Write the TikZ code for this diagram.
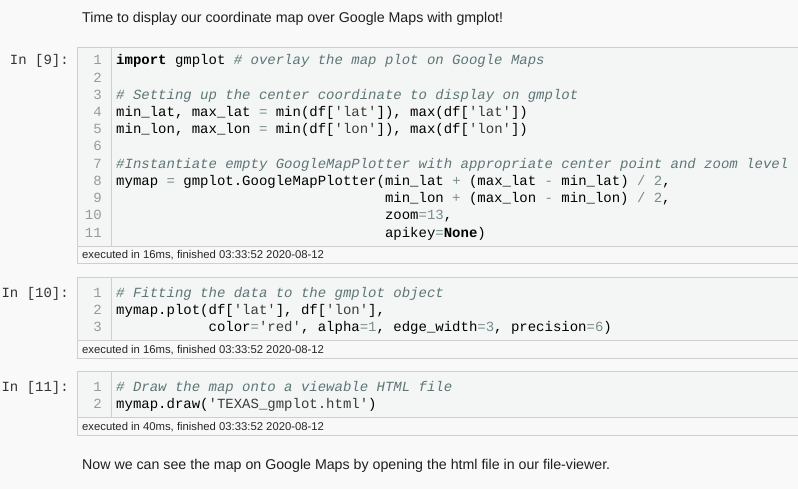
\documentclass[tikz,border=0pt]{standalone}
\usepackage{fontspec}
\setmainfont{Liberation Sans}
\setmonofont{Liberation Mono}
\definecolor{pagebg}{HTML}{F9F9F9}
\definecolor{codebg}{HTML}{F4F6F6}
\definecolor{footbg}{HTML}{F8F8F8}
\definecolor{boxline}{HTML}{CFCFCF}
\definecolor{numgray}{HTML}{999999}
\definecolor{cmgray}{HTML}{5E7575}
\definecolor{opgray}{HTML}{7A8C8C}
\definecolor{strgray}{HTML}{3A3A3A}
\newcommand{\cm}[1]{{\color{cmgray}\itshape #1}}
\newcommand{\op}[1]{{\color{opgray}#1}}
\newcommand{\nm}[1]{{\color{opgray}#1}}
\newcommand{\str}[1]{{\color{strgray}#1}}
\newcommand{\kw}[1]{\textbf{#1}}

\begin{document}
\begin{tikzpicture}[x=1pt,y=-1pt,
codeline/.style={anchor=base west,inner sep=0pt,font=\ttfamily\fontsize{14}{17}\selectfont},
lineno/.style={anchor=base east,inner sep=0pt,text=numgray,font=\ttfamily\fontsize{14}{17}\selectfont},
prompt/.style={anchor=base east,inner sep=0pt,text=black!80,font=\ttfamily\fontsize{14}{17}\selectfont},
footer/.style={anchor=base west,inner sep=0pt,text=black!85,font=\fontsize{11.3}{13}\selectfont},
prose/.style={anchor=base west,inner sep=0pt,text=black!88,font=\fontsize{14.2}{17}\selectfont}]
\fill[pagebg] (0,0) rectangle (798,489);
\useasboundingbox (0,0) rectangle (798,489);

\node[prose] (intro) at (82,23) {Time to display our coordinate map over Google Maps with gmplot!};

\foreach \t/\c/\f in {47.5/246/263.5, 277.5/340/358, 371.5/417/435}{
\draw[boxline,fill=footbg] (77.5,\t) rectangle (805,\f);
\draw[boxline,fill=codebg] (77.5,\t) rectangle (805,\c);
\draw[boxline] (111,\t) -- (111,\c);
}

% In [9]
\node[prompt] (in9) at (69,65) {In [9]:};
\foreach \n in {1,...,11}
\node[lineno] (n9-\n) at (102,{65+17.2*(\n-1)}) {\n};
\node[codeline] (c9-1) at (116,65) {\kw{import} gmplot \cm{\# overlay the map plot on Google Maps}};
\node[codeline] (c9-3) at (116,99.4) {\cm{\# Setting up the center coordinate to display on gmplot}};
\node[codeline] (c9-4) at (116,116.6) {min\_lat, max\_lat \op{=} min(df[\str{'lat'}]), max(df[\str{'lat'}])};
\node[codeline] (c9-5) at (116,133.8) {min\_lon, max\_lon \op{=} min(df[\str{'lon'}]), max(df[\str{'lon'}])};
\node[codeline] (c9-7) at (116,168.2) {\cm{\#Instantiate empty GoogleMapPlotter with appropriate center point and zoom level}};
\node[codeline] (c9-8) at (116,185.4) {mymap \op{=} gmplot.GoogleMapPlotter(min\_lat \op{+} (max\_lat \op{-} min\_lat) \op{/} \nm{2},};
\node[codeline] (c9-9) at (384.8,202.6) {min\_lon \op{+} (max\_lon \op{-} min\_lon) \op{/} \nm{2},};
\node[codeline] (c9-10) at (384.8,219.8) {zoom\op{=}\nm{13},};
\node[codeline] (c9-11) at (384.8,237) {apikey\op{=}\kw{None})};
\node[footer] (f9) at (82,258.7) {executed in 16ms, finished 03:33:52 2020-08-12};

% In [10]
\node[prompt] (in10) at (69,297) {In [10]:};
\foreach \n in {1,2,3}
\node[lineno] (n10-\n) at (102,{297+17*(\n-1)}) {\n};
\node[codeline] (c10-1) at (116,297) {\cm{\# Fitting the data to the gmplot object}};
\node[codeline] (c10-2) at (116,314) {mymap.plot(df[\str{'lat'}], df[\str{'lon'}],};
\node[codeline] (c10-3) at (208.4,331) {color\op{=}\str{'red'}, alpha\op{=}\nm{1}, edge\_width\op{=}\nm{3}, precision\op{=}\nm{6})};
\node[footer] (f10) at (82,353.5) {executed in 16ms, finished 03:33:52 2020-08-12};

% In [11]
\node[prompt] (in11) at (69,391) {In [11]:};
\foreach \n in {1,2}
\node[lineno] (n11-\n) at (102,{391+17*(\n-1)}) {\n};
\node[codeline] (c11-1) at (116,391) {\cm{\# Draw the map onto a viewable HTML file}};
\node[codeline] (c11-2) at (116,408) {mymap.draw(\str{'TEXAS\_gmplot.html'})};
\node[footer] (f11) at (82,430.5) {executed in 40ms, finished 03:33:52 2020-08-12};

\node[prose] (outro) at (82,469) {Now we can see the map on Google Maps by opening the html file in our file-viewer.};
\end{tikzpicture}
\end{document}
